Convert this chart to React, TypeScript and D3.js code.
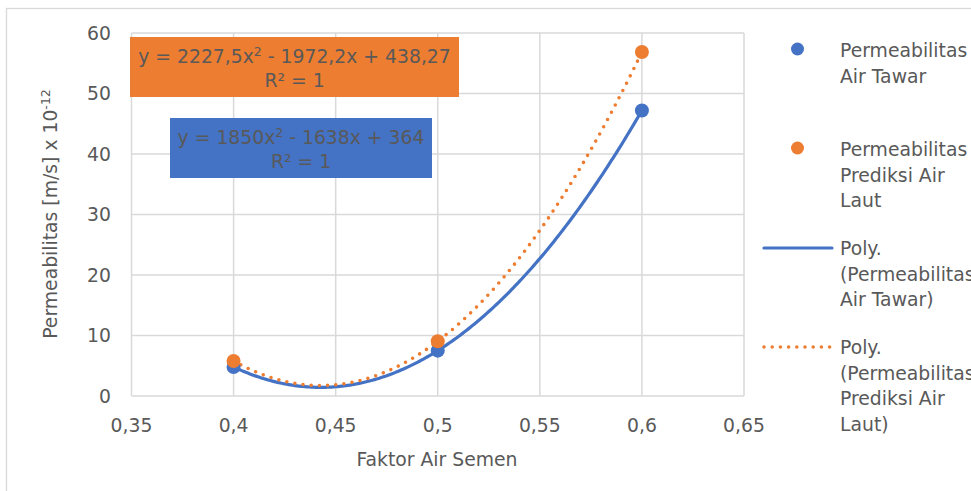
import React from "react";
import * as d3 from "d3";

const xValues = [0.4, 0.5, 0.6];
const airTawar = [4.8, 7.5, 47.2];
const prediksiAirLaut = [5.79, 9.05, 56.85];
const xTicks = [0.35, 0.4, 0.45, 0.5, 0.55, 0.6, 0.65];
const yTicks = [0, 10, 20, 30, 40, 50, 60];
const eqOrange = ["y = 2227,5x", "2", " - 1972,2x + 438,27"];
const eqBlue = ["y = 1850x", "2", " - 1638x + 364"];
const legendA = ["Permeabilitas", "Air Tawar"];
const legendB = ["Permeabilitas", "Prediksi Air", "Laut"];
const legendC = ["Poly.", "(Permeabilitas", "Air Tawar)"];
const legendD = ["Poly.", "(Permeabilitas", "Prediksi Air", "Laut)"];

const BLUE = "#4472C4";
const ORANGE = "#ED7D31";
const TXT = "#595959";
const GRID = "#d9d9d9";
const FONT = "DejaVu Sans, Verdana, sans-serif";
const FS = 18.8;

// quadratic trendline through the points (least squares, exact for 3 points)
function polyfit2(xs: number[], ys: number[]) {
  return (x: number) =>
    xs.reduce((acc, xi, i) => {
      let term = ys[i];
      xs.forEach((xj, j) => {
        if (j !== i) term *= (x - xj) / (xi - xj);
      });
      return acc + term;
    }, 0);
}

export default function App() {
  const W = 971, H = 491;
  const x = d3.scaleLinear().domain([0.35, 0.65]).range([131.5, 744]);
  const y = d3.scaleLinear().domain([0, 60]).range([396, 33]);
  const fmt = (v: number) => String(+v.toFixed(2)).replace(".", ",");

  const samples = d3.range(0, 201).map((i) => 0.4 + (0.2 * i) / 200);
  const fA = polyfit2(xValues, airTawar);
  const fB = polyfit2(xValues, prediksiAirLaut);
  const line = d3
    .line<number[]>()
    .x((d) => x(d[0]))
    .y((d) => y(d[1]))
    .curve(d3.curveLinear);
  const pathA = line(samples.map((s) => [s, fA(s)])) || "";
  const pathB = line(samples.map((s) => [s, fB(s)])) || "";

  const legendText = (lines: string[], y0: number) =>
    lines.map((t, i) => (
      <text key={i} x={840} y={y0 + i * 25.5} fontSize={FS} fill={TXT}>
        {t}
      </text>
    ));

  return (
    <svg
      width={W}
      height={H}
      style={{ position: "fixed", left: 0, top: 0, background: "#fff" }}
      fontFamily={FONT}
    >
      <rect x={0} y={0} width={W} height={H} fill="#fff" />
      <rect x={6.5} y={8.5} width={1000} height={600} fill="#fff" stroke={GRID} strokeWidth={1.3} />

      {/* gridlines */}
      {yTicks.map((t) => (
        <line key={"gy" + t} x1={x(0.35)} x2={x(0.65)} y1={y(t)} y2={y(t)} stroke={GRID} strokeWidth={1.5} />
      ))}
      {xTicks.map((t) => (
        <line key={"gx" + t} x1={x(t)} x2={x(t)} y1={y(0)} y2={y(60)} stroke={GRID} strokeWidth={1.5} />
      ))}

      {/* tick labels */}
      {yTicks.map((t) => (
        <text key={"ty" + t} x={111} y={y(t)} dy="0.36em" textAnchor="end" fontSize={FS} fill={TXT}>
          {t}
        </text>
      ))}
      {xTicks.map((t) => (
        <text key={"tx" + t} x={x(t)} y={431.5} textAnchor="middle" fontSize={FS} fill={TXT}>
          {fmt(t)}
        </text>
      ))}

      {/* axis titles */}
      <text x={437} y={465.5} textAnchor="middle" fontSize={FS} fill={TXT}>
        Faktor Air Semen
      </text>
      <text transform="translate(57,214) rotate(-90)" textAnchor="middle" fontSize={FS} fill={TXT}>
        Permeabilitas [m/s] x 10
        <tspan fontSize={12.5} dy={-7}>-12</tspan>
      </text>

      {/* trendlines */}
      <path d={pathA} fill="none" stroke={BLUE} strokeWidth={3.2} strokeLinecap="round" />
      <path d={pathB} fill="none" stroke={ORANGE} strokeWidth={3.6} strokeLinecap="round" strokeDasharray="0 8.2" />

      {/* points */}
      {xValues.map((xv, i) => (
        <circle key={"a" + i} cx={x(xv)} cy={y(airTawar[i])} r={7} fill={BLUE} />
      ))}
      {xValues.map((xv, i) => (
        <circle key={"b" + i} cx={x(xv)} cy={y(prediksiAirLaut[i])} r={7} fill={ORANGE} />
      ))}

      {/* equation labels */}
      <rect x={130} y={37} width={329} height={60} fill={ORANGE} />
      <text x={294.5} y={63} textAnchor="middle" fontSize={FS} fill={TXT}>
        {eqOrange[0]}
        <tspan fontSize={12.5} dy={-7}>{eqOrange[1]}</tspan>
        <tspan dy={7}>{eqOrange[2]}</tspan>
      </text>
      <text x={294.5} y={87} textAnchor="middle" fontSize={FS} fill={TXT}>
        R² = 1
      </text>
      <rect x={170} y={118} width={262} height={60} fill={BLUE} />
      <text x={301} y={144} textAnchor="middle" fontSize={FS} fill={TXT}>
        {eqBlue[0]}
        <tspan fontSize={12.5} dy={-7}>{eqBlue[1]}</tspan>
        <tspan dy={7}>{eqBlue[2]}</tspan>
      </text>
      <text x={301} y={168} textAnchor="middle" fontSize={FS} fill={TXT}>
        R² = 1
      </text>

      {/* legend */}
      <circle cx={797.5} cy={49} r={6.5} fill={BLUE} />
      {legendText(legendA, 57)}
      <circle cx={797.5} cy={148} r={6.5} fill={ORANGE} />
      {legendText(legendB, 156)}
      <line x1={764} x2={832} y1={248} y2={248} stroke={BLUE} strokeWidth={3.2} strokeLinecap="round" />
      {legendText(legendC, 255)}
      <line x1={764} x2={830} y1={347} y2={347} stroke={ORANGE} strokeWidth={3.6} strokeLinecap="round" strokeDasharray="0 8.2" />
      {legendText(legendD, 354)}
    </svg>
  );
}
